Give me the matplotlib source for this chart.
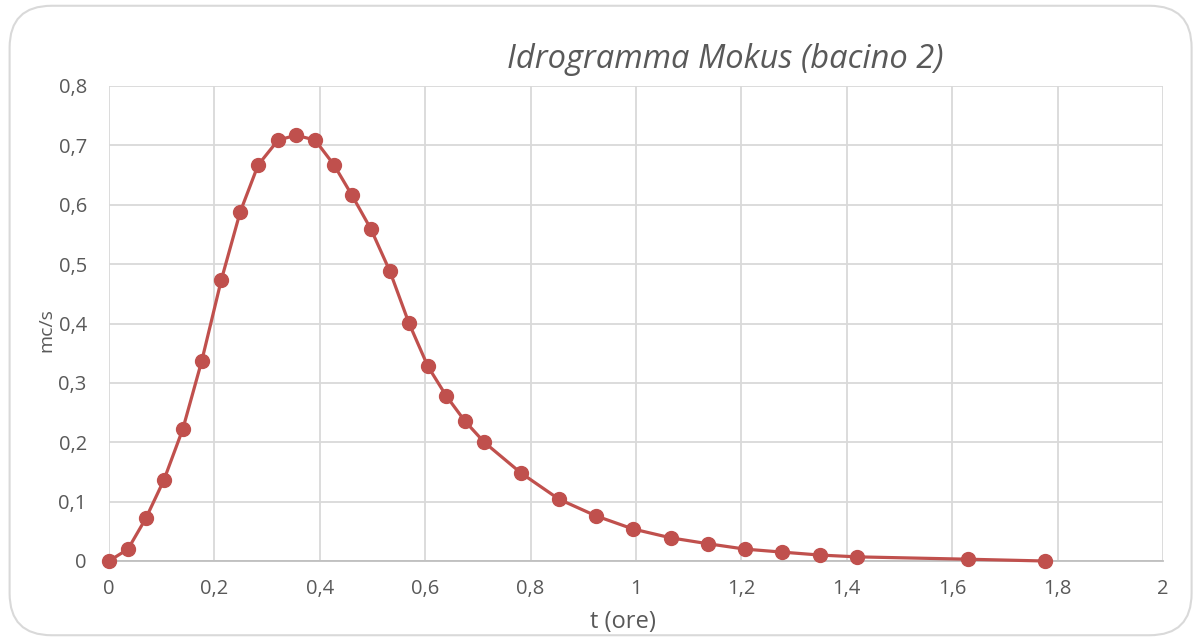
import numpy as np
import matplotlib
matplotlib.use("Agg")
import matplotlib.pyplot as plt
from matplotlib.patches import FancyBboxPatch
from matplotlib.ticker import FuncFormatter

# Idrogramma Mokus, bacino 2: tempo (ore) e portata (mc/s)
t_ore = [0.0, 0.036, 0.070, 0.104, 0.140, 0.176, 0.213, 0.249, 0.283, 0.321,
         0.355, 0.391, 0.427, 0.461, 0.497, 0.533, 0.569, 0.605, 0.640, 0.675,
         0.712, 0.782, 0.854, 0.924, 0.994, 1.066, 1.137, 1.207, 1.277, 1.349,
         1.419, 1.630, 1.776]
q_mcs = [0.0, 0.020, 0.072, 0.136, 0.222, 0.337, 0.473, 0.588, 0.667, 0.709,
         0.717, 0.709, 0.667, 0.616, 0.559, 0.488, 0.401, 0.328, 0.278, 0.236,
         0.200, 0.148, 0.104, 0.076, 0.054, 0.039, 0.029, 0.020, 0.015, 0.010,
         0.007, 0.003, 0.0]

x_ticks = [0, 0.2, 0.4, 0.6, 0.8, 1.0, 1.2, 1.4, 1.6, 1.8, 2.0]
y_ticks = [0, 0.1, 0.2, 0.3, 0.4, 0.5, 0.6, 0.7, 0.8]

plt.rcParams['font.family'] = ['Open Sans', 'DejaVu Sans']
grigio = '#595959'
rosso = '#C0504D'

fig = plt.figure(figsize=(12, 6.41), dpi=100)
# bordo arrotondato del grafico
bordo = FancyBboxPatch((0.008, 0.009), 0.985, 0.982,
                       boxstyle="round,pad=0,rounding_size=0.035",
                       transform=fig.transFigure, facecolor='none',
                       edgecolor='#D9D9D9', linewidth=1.5, mutation_aspect=1.87,
                       zorder=-1)
fig.patches.append(bordo)

ax = fig.add_axes([109 / 1200, 1 - 561 / 641, (1163 - 109) / 1200, (561 - 86) / 641])
ax.set_facecolor('none')
ax.plot(t_ore, q_mcs, color=rosso, linewidth=2.3, marker='o', markersize=10,
        markerfacecolor=rosso, markeredgecolor=rosso, clip_on=False, zorder=3)

ax.set_xlim(0, 2)
ax.set_ylim(0, 0.8)
ax.set_xticks(x_ticks)
ax.set_yticks(y_ticks)
virgola = FuncFormatter(lambda v, p: ('%g' % round(v, 2)).replace('.', ','))
ax.xaxis.set_major_formatter(virgola)
ax.yaxis.set_major_formatter(virgola)
ax.tick_params(axis='both', length=0, labelsize=14.5, labelcolor=grigio)
ax.tick_params(axis='x', pad=13)
ax.tick_params(axis='y', pad=16)
ax.grid(True, color='#D9D9D9', linewidth=1.3)
ax.set_axisbelow(True)
for s in ['top', 'right', 'left']:
    ax.spines[s].set_visible(False)
ax.spines['bottom'].set_color('#BFBFBF')
ax.spines['bottom'].set_linewidth(1.3)

ax.set_xlabel('t (ore)', fontsize=17, color=grigio)
ax.xaxis.set_label_coords(623 / 1200, 1 - 622 / 641, transform=fig.transFigure)
ax.xaxis.label.set_va('center')
ax.set_ylabel('mc/s', fontsize=14, color=grigio)
ax.yaxis.set_label_coords(46 / 1200, 1 - 330 / 641, transform=fig.transFigure)
ax.yaxis.label.set_va('center')
fig.text(725 / 1200, 1 - 60 / 641, 'Idrogramma Mokus (bacino 2)', fontsize=23.5,
         style='italic', color=grigio, ha='center', va='center')

fig.savefig('out.png', dpi=100)
